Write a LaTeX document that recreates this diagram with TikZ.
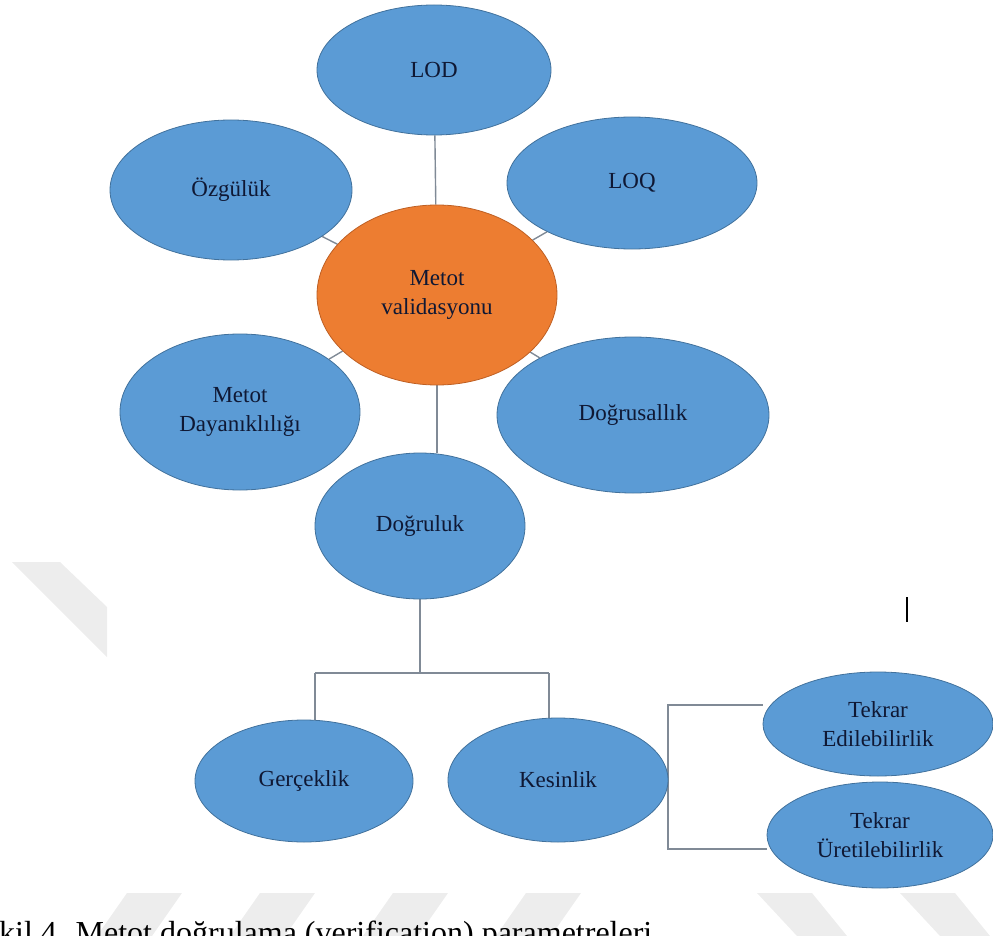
\documentclass[tikz,border=0pt]{standalone}
\usepackage{fontspec}
\setmainfont{Liberation Serif}
\usetikzlibrary{shapes.geometric,backgrounds}
\definecolor{cblue}{RGB}{91,155,213}
\definecolor{cblueedge}{RGB}{65,113,156}
\definecolor{corange}{RGB}{237,125,49}
\definecolor{corangeedge}{RGB}{190,95,35}
\definecolor{ctext}{RGB}{15,24,52}
\definecolor{cline}{RGB}{128,138,150}
\definecolor{cwater}{RGB}{237,237,237}
\tikzset{
    bubble/.style = {ellipse,
                    fill=cblue,
                    draw=cblueedge,
                    text=ctext,
                    line width=0.8pt,
                    inner sep=0pt,
                    align=center,
                    font=\fontsize{23}{29}\selectfont},
    hub/.style =    {bubble,
                    fill=corange,
                    draw=corangeedge},
    link/.style =   {draw=cline,
                    line width=1.4pt},
    wmark/.style =  {fill=cwater},
    -}

\begin{document}
\begin{tikzpicture}[x=1pt,y=-1pt]
    \useasboundingbox (0,0) rectangle (993,936);
    % watermark bands
    \foreach \x in {97,230,363,496}
        \fill[wmark] (\x,936) -- (\x+55,936) -- (\x+85,893) -- (\x+30,893) -- cycle;
    \foreach \x in {757,900}
        \fill[wmark] (\x,893) -- (\x+55,893) -- (\x+90,936) -- (\x+40,936) -- cycle;
    \fill[wmark] (12,562) -- (60,562) -- (107,607) -- (107,657) -- cycle;

    \node[hub]    (MV) at (437,295) [minimum width=240pt, minimum height=180pt] {Metot\\validasyonu};
    \node[bubble] (LOD) at (434,70)  [minimum width=234pt, minimum height=130pt] {LOD};
    \node[bubble] (OZ)  at (231,190) [minimum width=242pt, minimum height=140pt] {Özgülük};
    \node[bubble] (LOQ) at (632,183) [minimum width=250pt, minimum height=132pt] {LOQ};
    \node[bubble] (MD)  at (240,412) [minimum width=240pt, minimum height=156pt] {Metot\\Dayanıklılığı};
    \node[bubble] (DS)  at (633,415) [minimum width=272pt, minimum height=156pt] {Doğrusallık};
    \node[bubble] (DG)  at (420,526) [minimum width=210pt, minimum height=146pt] {Doğruluk};
    \node[bubble] (GR)  at (304,781) [minimum width=218pt, minimum height=122pt] {Gerçeklik};
    \node[bubble] (KS)  at (558,780) [minimum width=220pt, minimum height=124pt] {Kesinlik};
    \node[bubble] (TE)  at (878,724) [minimum width=230pt, minimum height=104pt] {Tekrar\\Edilebilirlik};
    \node[bubble] (TU)  at (880,835) [minimum width=226pt, minimum height=106pt] {Tekrar\\Üretilebilirlik};

    \coordinate (bar)  at (420,673);
    \coordinate (barL) at (315,673);
    \coordinate (barR) at (549,673);
    \coordinate (brT)  at (668,705);
    \coordinate (brB)  at (668,849);
    \coordinate (cursor) at (907,597);

    \begin{scope}[on background layer]
        \path [link] (MV) edge (LOD)
                     (MV) edge (OZ)
                     (MV) edge (LOQ)
                     (MV) edge (MD)
                     (MV) edge (DS);
        \draw [link] (MV.south) -- (MV.south |- DG.north);
        \draw [link] (DG) -- (DG |- bar);
        \draw [link] (barL) -- (barR);
        \draw [link] (barL) -- (barL |- GR.north);
        \draw [link] (barR) -- (barR |- KS.north);
        \draw [link] (TE.west |- brT) -- (brT) -- (brB) -- (TU.west |- brB);
    \end{scope}

    \draw [line width=1.6pt] (cursor) -- ++(0,25);
    % caption, cut off by the page edge as in the scan
    \node [anchor=base west, inner sep=0pt, font=\fontsize{32}{38}\selectfont] (cap) at (-33,943)
        {Şekil 4. Metot doğrulama (verification) parametreleri};
\end{tikzpicture}
\end{document}
